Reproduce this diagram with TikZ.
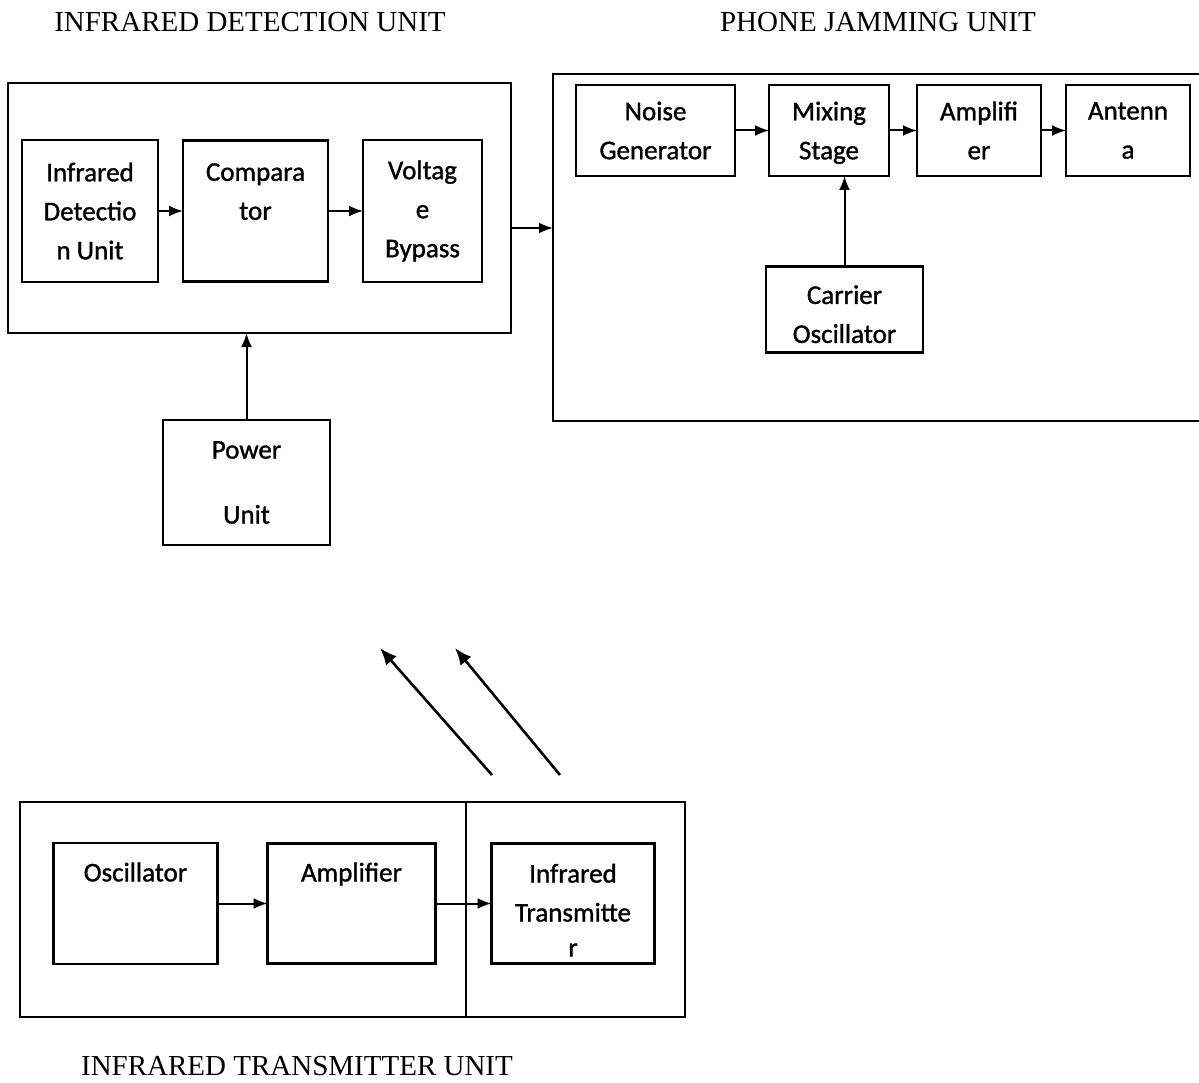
\documentclass[tikz,border=0pt]{standalone}
\usepackage{fontspec}
\setmainfont{Carlito}
\newfontfamily\boxfont{Carlito}[FakeBold=1.2]
\newfontfamily\titlefont{Liberation Serif}
\usetikzlibrary{positioning,arrows.meta}
\tikzset{
  line/.style={-{Latex[length=14pt,width=11pt]}, line width=2pt},
  ray/.style={-{Latex[length=17pt,width=14pt]}, line width=2.6pt},
  box/.style={draw, line width=2.2pt, align=center, inner sep=0pt, outer sep=0pt,
    font=\boxfont\fontsize{27}{39}\selectfont},
  unit/.style={draw, line width=1.8pt, inner sep=0pt, outer sep=0pt},
  title/.style={font=\titlefont\fontsize{29}{34}\selectfont}
}

\begin{document}
\begin{tikzpicture}[x=1pt, y=-1pt, >=Latex]
  \useasboundingbox (0,0) rectangle (1199,1083);

  \node[title] (dettitle) at (250,22) {INFRARED DETECTION UNIT};
  \node[title] (jamtitle) at (878,22) {PHONE JAMMING UNIT};
  \node[title] (txtitle) at (297,1066) {INFRARED TRANSMITTER UNIT};

  \node[unit, minimum width=503pt, minimum height=250pt] (detunit) at (259.5,208) {};
  \node[box, minimum width=136pt, minimum height=142pt] (ird) at (90,211) {Infrared\\Detectio\\n Unit};
  \node[box, minimum width=145pt, minimum height=141pt, right=25pt of ird] (comp) {Compara\\tor\\~};
  \node[box, minimum width=119pt, minimum height=142pt, right=35pt of comp] (volt) {Voltag\\e\\Bypass};
  \node[box, minimum width=167pt, minimum height=125pt] (power) at (246.5,482.5) {Power\\[26pt]Unit};

  \node[unit, minimum width=649pt, minimum height=347pt] (jamunit) at (877.5,247.5) {};
  \node[box, minimum width=159pt, minimum height=91pt] (noise) at (655.5,130.5) {Noise\\Generator};
  \node[box, minimum width=120pt, minimum height=91pt, text depth=0pt, right=34pt of noise] (mixing) {Mixing\\Stage};
  \node[box, minimum width=124pt, minimum height=91pt, right=28pt of mixing] (amp) {Amplifi\\er};
  \node[box, minimum width=124pt, minimum height=91pt, right=25pt of amp] (antenna) {Antenn\\a};
  \node[box, minimum width=157pt, minimum height=86pt] (carrier) at (844.5,309.5) {\rule{0pt}{28pt}Carrier\\Oscillator};

  \node[unit, minimum width=665pt, minimum height=215pt] (txunit) at (352.5,909.5) {};
  \node[box, minimum width=164pt, minimum height=121pt] (osc) at (135.5,903.5) {Oscillator\\[24pt]~};
  \node[box, minimum width=168pt, minimum height=120pt, right=50pt of osc] (txamp) {Amplifier\\[24pt]~};
  \node[box, minimum width=163pt, minimum height=120pt, right=56pt of txamp] (irtx) {\rule{0pt}{32pt}Infrared\\Transmitte\\[-4pt]r};
  \coordinate (split) at (466,802);
  \draw[line width=1.8pt] (split) -- (split |- txunit.south);

  \draw[line] (ird) -- (comp);
  \draw[line] (comp) -- (volt);
  \coordinate (jamin) at (553,228);
  \draw[line] (detunit.east |- jamin) -- (jamin);
  \draw[line] (power) -- (power |- detunit.south);

  \draw[line] (noise) -- (mixing);
  \draw[line] (mixing) -- (amp);
  \draw[line] (amp) -- (antenna);
  \draw[line] (carrier) -- (carrier |- mixing.south);

  \draw[line] (osc) -- (txamp);
  \draw[line] (txamp) -- (irtx);

  \coordinate (rayA) at (492,775);
  \coordinate (rayAend) at (380,648);
  \coordinate (rayB) at (560,775);
  \coordinate (rayBend) at (455,648);
  \draw[ray] (rayA) -- (rayAend);
  \draw[ray] (rayB) -- (rayBend);
\end{tikzpicture}
\end{document}
